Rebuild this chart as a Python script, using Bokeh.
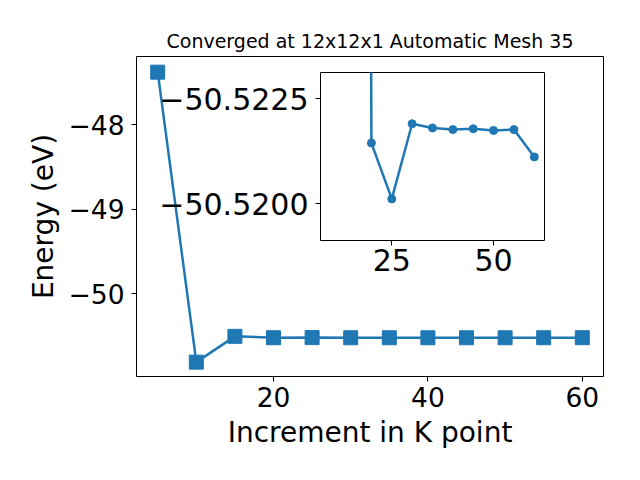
from bokeh.plotting import figure
from bokeh.layouts import column, row
from bokeh.models import Range1d, FixedTicker, CustomJSTickFormatter
from bokeh.embed import file_html
from bokeh.resources import INLINE

# ---- data ----
k_points = [5, 10, 15, 20, 25, 30, 35, 40, 45, 50, 55, 60]
energy = [-47.38, -50.81, -50.505, -50.52145, -50.52012, -50.52191, -50.52181,
          -50.52177, -50.52179, -50.52175, -50.52177, -50.52112]
inset_k = [10, 20, 25, 30, 35, 40, 45, 50, 55, 60]
inset_energy = [-50.81, -50.52145, -50.52012, -50.52191, -50.52181,
                -50.52177, -50.52179, -50.52175, -50.52177, -50.52112]
main_xticks = [20, 40, 60]
main_yticks = [-50, -49, -48]
inset_xticks = [25, 50]
inset_yticks = [-50.5225, -50.5200]

title = "Converged at 12x12x1 Automatic Mesh 35"
xlabel = "Increment in K point"
ylabel = "Energy (eV)"

COLOR = "#1f77b4"
FONT = "DejaVu Sans"


def fmt(decimals):
    return CustomJSTickFormatter(code=(
        "return (tick < 0 ? '\u2212' : '') + Math.abs(tick).toFixed(%d);" % decimals))


def style_axes(fig, tick_px, label_px):
    for ax in (fig.xaxis[0], fig.yaxis[0]):
        ax.axis_line_color = None
        ax.major_tick_line_color = "black"
        ax.major_tick_in = 0
        ax.major_tick_out = 5
        ax.minor_tick_line_color = None
        ax.major_label_text_font = FONT
        ax.major_label_text_font_size = tick_px
        ax.major_label_text_color = "black"
        ax.axis_label_text_font = FONT
        ax.axis_label_text_font_size = label_px
        ax.axis_label_text_font_style = "normal"
        ax.axis_label_text_color = "black"
    fig.xgrid.visible = False
    fig.ygrid.visible = False
    fig.outline_line_color = "black"
    fig.outline_line_width = 1


# ---- main figure ----
p = figure(width=640, height=480, output_backend="svg", toolbar_location=None,
           x_range=Range1d(2.25, 62.75), y_range=Range1d(-50.98, -47.195),
           min_border_left=136, min_border_right=37, min_border_top=56,
           min_border_bottom=104, title=title)
p.title.text_font = FONT
p.title.text_font_size = "19px"
p.title.text_font_style = "normal"
p.title.text_color = "black"
p.title.align = "center"
p.title.offset = 0
style_axes(p, "26.5px", "28px")
p.xaxis.axis_label = xlabel
p.yaxis.axis_label = ylabel
p.xaxis.ticker = FixedTicker(ticks=main_xticks)
p.yaxis.ticker = FixedTicker(ticks=main_yticks)
p.xaxis.formatter = fmt(0)
p.yaxis.formatter = fmt(0)
p.xaxis.major_label_standoff = 5
p.yaxis.major_label_standoff = 7
p.xaxis.axis_label_standoff = 6
p.yaxis.axis_label_standoff = 6

p.line(k_points, energy, line_color=COLOR, line_width=2.5)
p.scatter(k_points, energy, marker="square", size=14, fill_color=COLOR,
          line_color=COLOR)

# ---- inset figure ----
ins = figure(width=399, height=218, output_backend="svg", toolbar_location=None,
             x_range=Range1d(7.5, 62.5), y_range=Range1d(-50.51913, -50.52313),
             min_border_left=170, min_border_right=5, min_border_top=5,
             min_border_bottom=45)
ins.border_fill_alpha = 0
ins.background_fill_color = "white"
style_axes(ins, "30px", "20px")
ins.xaxis.ticker = FixedTicker(ticks=inset_xticks)
ins.yaxis.ticker = FixedTicker(ticks=inset_yticks)
ins.xaxis.formatter = fmt(0)
ins.yaxis.formatter = fmt(4)
ins.xaxis.major_label_standoff = 3
ins.yaxis.major_label_standoff = 7

ins.line(inset_k, inset_energy, line_color=COLOR, line_width=2.5)
ins.scatter(inset_k, inset_energy, marker="circle", size=8, fill_color=COLOR,
            line_color=COLOR)

inset_box = row(ins, margin=(-413, 0, 0, 150))
layout = column(p, inset_box, spacing=0)

with open("out.html", "w", encoding="utf-8") as f:
    f.write(file_html(layout, INLINE))
